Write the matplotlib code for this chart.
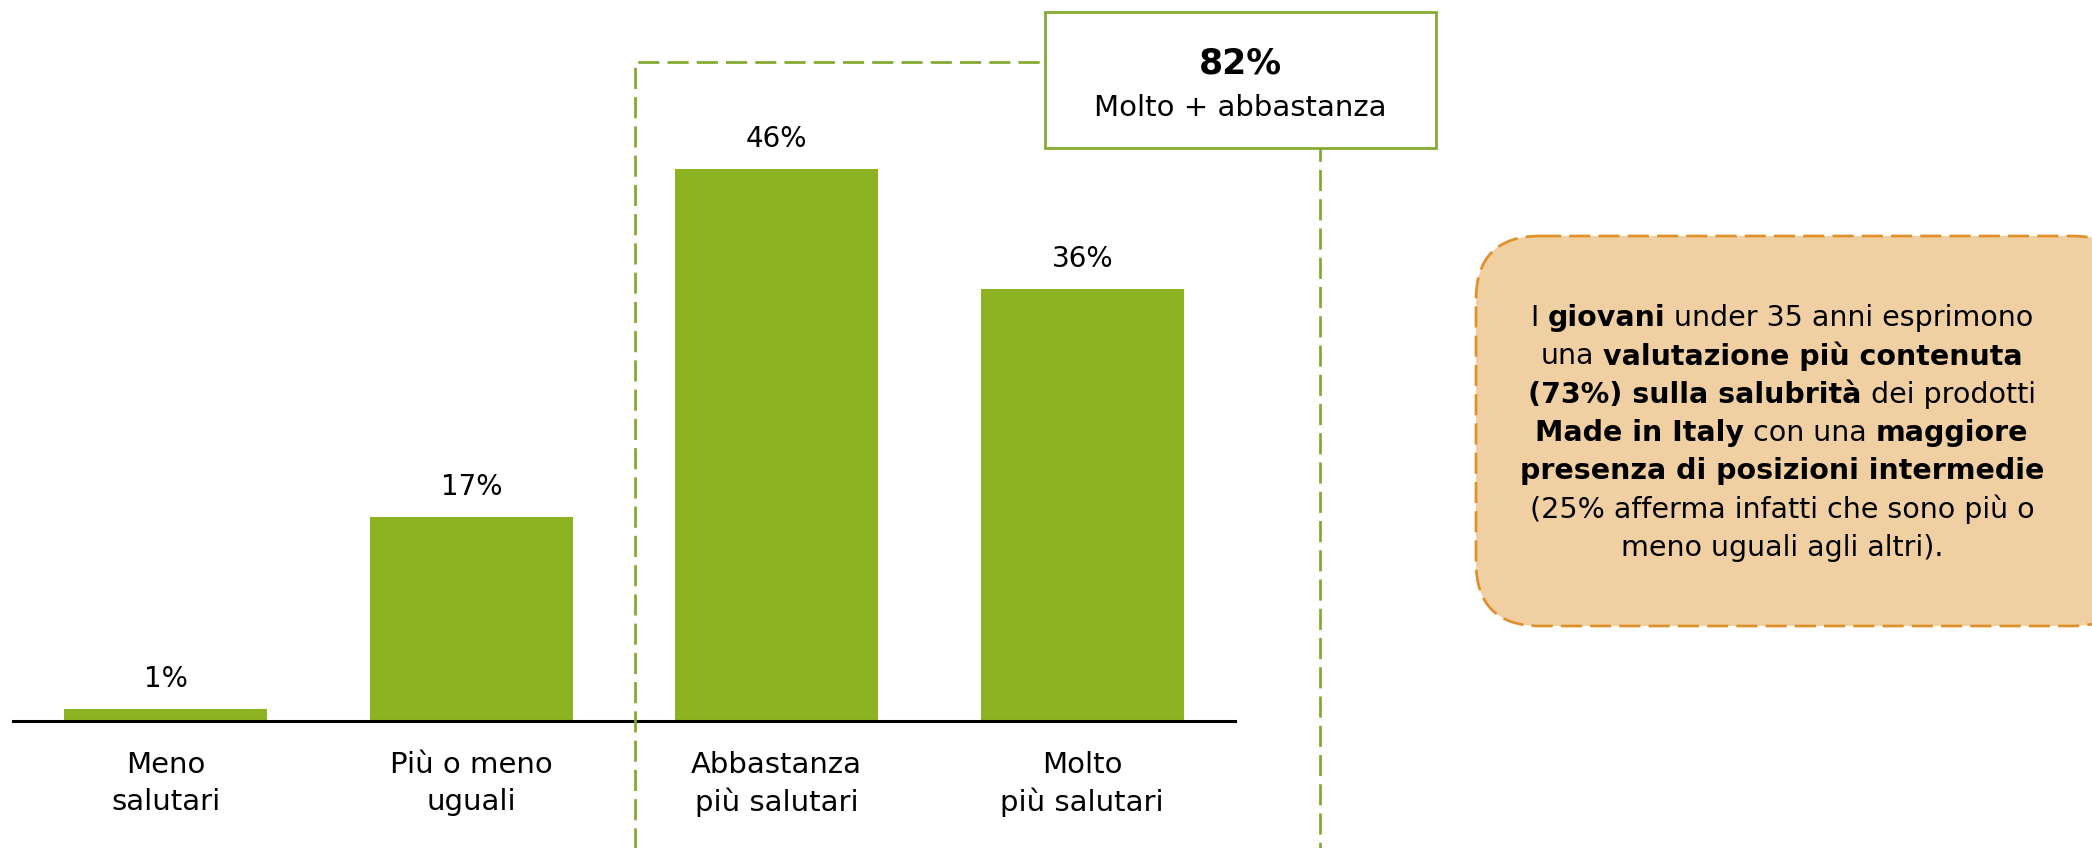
import numpy as np
import matplotlib
matplotlib.use("Agg")
import matplotlib.pyplot as plt
import matplotlib.transforms as mtransforms
from matplotlib.patches import FancyBboxPatch, Rectangle

plt.rcParams['font.family'] = ['DejaVu Sans']

# survey answers: how healthy Made in Italy products are
categories = [("Meno", "salutari"), ("Più o meno", "uguali"),
              ("Abbastanza", "più salutari"), ("Molto", "più salutari")]
values = [1, 17, 46, 36]
value_labels = ["1%", "17%", "46%", "36%"]

total_label = "82%"
total_caption = "Molto + abbastanza"

# note box, each line split into (text, bold) pieces
note_lines = [
    [("I", False), ("giovani", True), ("under 35 anni esprimono", False)],
    [("una", False), ("valutazione più contenuta", True)],
    [("(73%) sulla salubrità", True), ("dei prodotti", False)],
    [("Made in Italy", True), ("con una", False), ("maggiore", True)],
    [("presenza di posizioni intermedie", True)],
    [("(25% afferma infatti che sono più o", False)],
    [("meno uguali agli altri).", False)],
]

GREEN = "#8db322"
GREEN_LINE = "#82a82e"
ORANGE_FILL = "#f0cfa2"
ORANGE_EDGE = "#e0902a"

W, H = 2092, 848
fig = plt.figure(figsize=(W / 100, H / 100), dpi=100)
renderer = fig.canvas.get_renderer()

# bar chart: baseline at 721 px, 12 px per percent
ax = fig.add_axes([13 / W, 1 - 721 / H, 1222 / W, 600 / H])
x = np.arange(len(values))
ax.bar(x, values, width=0.665, color=GREEN, zorder=2)
ax.set_xlim(-0.5, len(values) - 0.5)
ax.set_ylim(0, 50)
for s in ["top", "right", "left"]:
    ax.spines[s].set_visible(False)
ax.spines["bottom"].set_linewidth(2.2)
ax.spines["bottom"].set_color("black")
ax.set_yticks([])
ax.set_xticks([])

for xi, v, lab in zip(x, values, value_labels):
    ax.annotate(lab, (xi, v), xytext=(0, 21.5), textcoords="offset points",
                ha="center", va="center", fontsize=20)

# overlay in pixel units (y down) for the frames and notes
ov = fig.add_axes([0, 0, 1, 1], zorder=3)
ov.set_xlim(0, W)
ov.set_ylim(H, 0)
ov.axis("off")

# category names under the axis, two lines each
tr = mtransforms.blended_transform_factory(ax.transData, ov.transData)
for xi, (l1, l2) in zip(x, categories):
    ov.text(xi, 765, l1, transform=tr, ha="center", va="center", fontsize=21)
    ov.text(xi, 802, l2, transform=tr, ha="center", va="center", fontsize=21)

# dashed bracket around the two top answers
dash = dict(color=GREEN_LINE, lw=1.95, ls=(0, (7.8, 3.0)), solid_capstyle="butt")
ov.plot([635, 635, 1320, 1320], [H + 5, 62, 62, H + 5], **dash)

# total box
ov.add_patch(Rectangle((1045, 12), 391, 136, facecolor="white",
                       edgecolor=GREEN_LINE, lw=1.95, zorder=5))
ov.text(1240, 64, total_label, ha="center", va="center", fontsize=25,
        fontweight="bold", zorder=6)
ov.text(1240, 108, total_caption, ha="center", va="center", fontsize=21, zorder=6)

# note box on the right
ov.add_patch(FancyBboxPatch((1476, 236), 660, 390,
                            boxstyle="round,pad=0,rounding_size=64",
                            facecolor=ORANGE_FILL, edgecolor=ORANGE_EDGE,
                            lw=1.95, ls=(0, (7.8, 3.0))))


def text_width(s, **kw):
    t = fig.text(0, 0, s, **kw)
    w = t.get_window_extent(renderer).width
    t.remove()
    return w


note_size = 20.5
space = text_width("a a", fontsize=note_size) - text_width("aa", fontsize=note_size)
cx = 1782
for i, line in enumerate(note_lines):
    py = 318 + i * 38.3
    widths = [text_width(t, fontsize=note_size, fontweight="bold" if b else "normal")
              for t, b in line]
    total = sum(widths) + space * (len(line) - 1)
    px = cx - total / 2
    for (t, b), w in zip(line, widths):
        ov.text(px, py, t, ha="left", va="center", fontsize=note_size,
                fontweight="bold" if b else "normal")
        px += w + space

fig.savefig("out.png", dpi=100)
